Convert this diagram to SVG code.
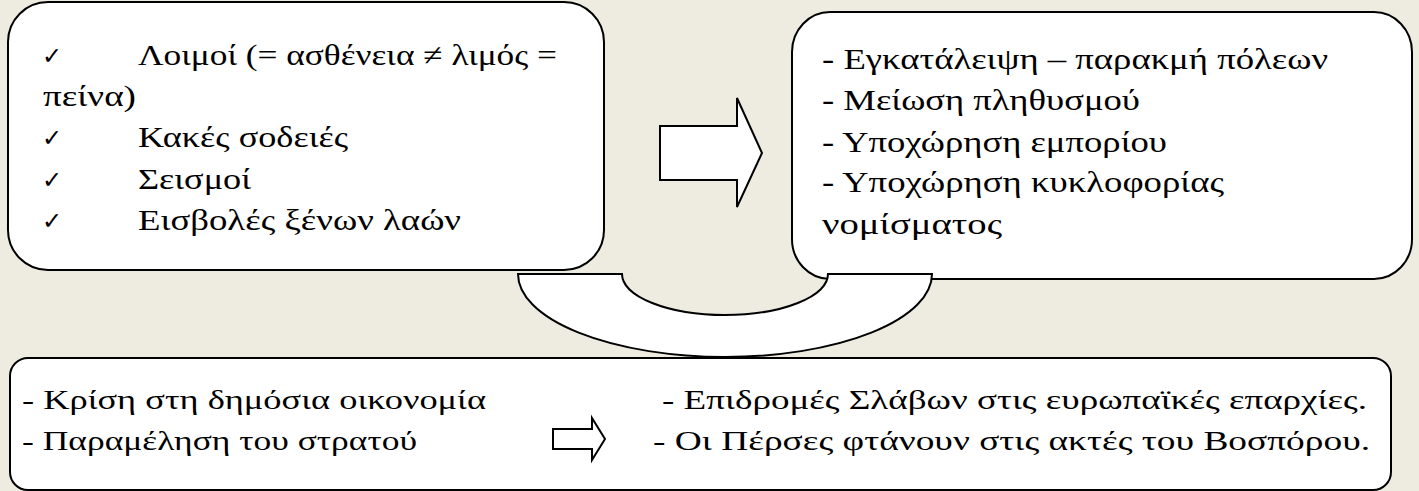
<svg xmlns="http://www.w3.org/2000/svg" width="1419" height="491" viewBox="0 0 1419 491">
<style>
.box{fill:#ffffff;stroke:#000000;stroke-width:2}
.t{font-family:"Liberation Serif","DejaVu Serif",serif;font-size:30px;fill:#000000}
.tb{font-family:"Liberation Serif","DejaVu Serif",serif;font-size:27px;fill:#000000}
.ck{font-family:"DejaVu Sans",sans-serif;font-size:24px;fill:#000000}
</style>
<rect x="0" y="0" width="1419" height="491" fill="#EEECE1"/>
<g id="node-causes">
<rect class="box" x="8" y="2" width="596" height="268" rx="40" ry="40"/>
<text class="ck" x="42" y="64">✓</text>
<text class="t" x="138" y="65" textLength="419" lengthAdjust="spacingAndGlyphs">Λοιμοί (= ασθένεια ≠ λιμός =</text>
<text class="t" x="43" y="106" textLength="93" lengthAdjust="spacingAndGlyphs">πείνα)</text>
<text class="ck" x="42" y="146">✓</text>
<text class="t" x="138" y="147" textLength="210" lengthAdjust="spacingAndGlyphs">Κακές σοδειές</text>
<text class="ck" x="42" y="188">✓</text>
<text class="t" x="138" y="189" textLength="113" lengthAdjust="spacingAndGlyphs">Σεισμοί</text>
<text class="ck" x="42" y="229">✓</text>
<text class="t" x="138" y="230" textLength="323" lengthAdjust="spacingAndGlyphs">Εισβολές ξένων λαών</text>
</g>
<g id="node-effects">
<rect class="box" x="792" y="12" width="620" height="267" rx="38" ry="40"/>
<text class="t" x="822" y="69" textLength="506" lengthAdjust="spacingAndGlyphs">- Εγκατάλειψη – παρακμή πόλεων</text>
<text class="t" x="822" y="110" textLength="318" lengthAdjust="spacingAndGlyphs">- Μείωση πληθυσμού</text>
<text class="t" x="822" y="152" textLength="345" lengthAdjust="spacingAndGlyphs">- Υποχώρηση εμπορίου</text>
<text class="t" x="822" y="192" textLength="402" lengthAdjust="spacingAndGlyphs">- Υποχώρηση κυκλοφορίας</text>
<text class="t" x="822" y="234" textLength="180" lengthAdjust="spacingAndGlyphs">νομίσματος</text>
</g>
<g id="connectors">
<path class="box" d="M660,126 L737,126 L737,98 L762,153 L737,207 L737,180 L660,180 Z"/>
<path class="box" d="M518,274 L622,274 A103,41 0 0 0 828,274 L932,274 A207,83 0 0 1 518,274 Z"/>
</g>
<g id="node-consequences">
<rect class="box" x="10" y="358" width="1381" height="132" rx="18" ry="18"/>
<text class="tb" x="22" y="409" textLength="464" lengthAdjust="spacingAndGlyphs">- Κρίση στη δημόσια οικονομία</text>
<text class="tb" x="22" y="450" textLength="395" lengthAdjust="spacingAndGlyphs">- Παραμέληση του στρατού</text>
<path class="box" d="M553,429 L592,429 L592,418 L605,439 L592,460 L592,449 L553,449 Z"/>
<text class="tb" x="662" y="409" textLength="705" lengthAdjust="spacingAndGlyphs">- Επιδρομές Σλάβων στις ευρωπαϊκές επαρχίες.</text>
<text class="tb" x="653" y="450" textLength="717" lengthAdjust="spacingAndGlyphs">- Οι Πέρσες φτάνουν στις ακτές του Βοσπόρου.</text>
</g>
</svg>
